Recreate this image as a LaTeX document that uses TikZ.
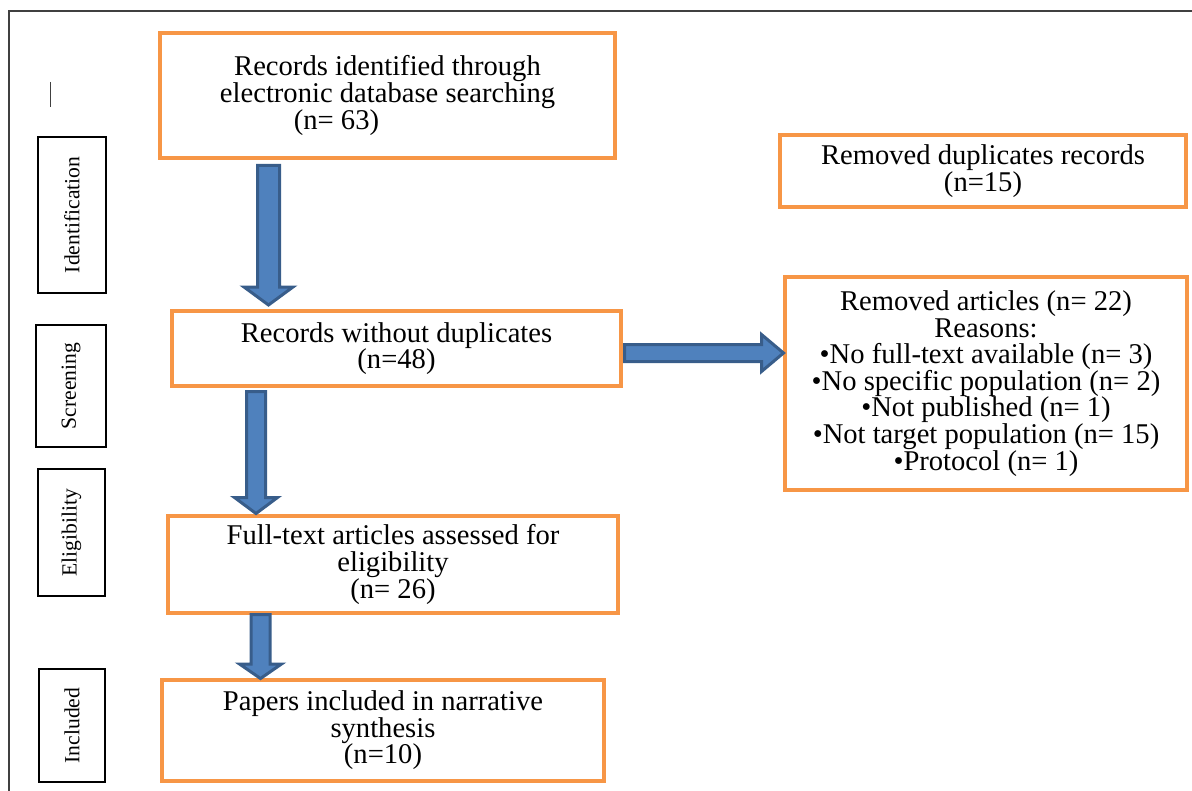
\documentclass[tikz,border=0pt]{standalone}
\usepackage{fontspec}
\setmainfont{Liberation Serif}
\usetikzlibrary{calc}

\definecolor{boxorange}{HTML}{F79646}
\definecolor{arrowblue}{HTML}{4F81BD}
\definecolor{arrowedge}{HTML}{385D8A}
\definecolor{framegray}{HTML}{404040}

\tikzset{
  flowbox/.style={draw=boxorange, line width=2pt, outer sep=0pt, inner sep=0pt,
    align=center, font=\fontsize{14.3}{13.3}\selectfont},
  phasebox/.style={draw=black, line width=1pt, outer sep=0pt, inner sep=0pt,
    rotate=90, font=\fontsize{10.8}{12}\selectfont},
  blockarrow/.style={fill=arrowblue, draw=arrowedge, line width=1.5pt, line join=miter}
}

% fat arrows: start, end, shaft half width, head half width, head length
\newcommand{\fatdown}[5]{%
  \path[blockarrow] let \p1=(#1), \p2=(#2) in
    (\x1-#3,\y1) -- (\x1+#3,\y1) -- (\x1+#3,\y2+#5) -- (\x1+#4,\y2+#5)
    -- (\x1,\y2) -- (\x1-#4,\y2+#5) -- (\x1-#3,\y2+#5) -- cycle;}
\newcommand{\fatright}[5]{%
  \path[blockarrow] let \p1=(#1), \p2=(#2) in
    (\x1,\y1+#3) -- (\x2-#5,\y1+#3) -- (\x2-#5,\y1+#4) -- (\x2,\y1)
    -- (\x2-#5,\y1-#4) -- (\x2-#5,\y1-#3) -- (\x1,\y1-#3) -- cycle;}

\begin{document}
\begin{tikzpicture}[x=0.5pt,y=-0.5pt]
\useasboundingbox (0,0) rectangle (1192,791);

% frame
\draw[framegray, line width=0.7pt] (9,791) -- (9,11) -- (1192,11);
\draw[framegray, line width=0.5pt] (50.5,82) -- (50.5,107);

% phases
\node[phasebox, minimum width=78pt, minimum height=34pt] (ident) at (72,215) {Identification};
\node[phasebox, minimum width=61pt, minimum height=35pt] (screen) at (71,386) {Screening};
\node[phasebox, minimum width=63.5pt, minimum height=33.5pt] (elig) at (71.5,532.5) {Eligibility};
\node[phasebox, minimum width=56.5pt, minimum height=33pt] (incl) at (72,725.5) {Included};

% main boxes
\node[flowbox, minimum width=227.5pt, minimum height=62.5pt] (rec) at (387.5,95.5)
  {Records identified through\\electronic database searching\\(n= 63)\hspace*{51pt}};
\node[flowbox, minimum width=224.5pt, minimum height=37.5pt] (nodup) at (396.5,348.5)
  {Records without duplicates\\(n=48)};
\node[flowbox, minimum width=225pt, minimum height=48.5pt] (ful) at (393,564.5)
  {Full-text articles assessed for\\eligibility\\(n= 26)};
\node[flowbox, minimum width=221pt, minimum height=50.5pt] (pap) at (383,730.5)
  {Papers included in narrative\\synthesis\\(n=10)};

% side boxes
\node[flowbox, minimum width=203pt, minimum height=36pt] (dup) at (983,171)
  {Removed duplicates records\\(n=15)};
\node[flowbox, minimum width=201pt, minimum height=106.5pt] (rem) at (986,383.5)
  {Removed articles (n= 22)\\Reasons:\\\textbullet No full-text available (n= 3)\\
   \textbullet No specific population (n= 2)\\\textbullet Not published (n= 1)\\
   \textbullet Not target population (n= 15)\\\textbullet Protocol (n= 1)};

% arrows
\fatdown{$(rec.south west)+(108.5,7.5)$}{$(nodup.north west)+(96.5,-6)$}{5.5pt}{12.25pt}{9pt}
\fatdown{$(nodup.south west)+(84,5.5)$}{$(ful.north west)+(84,-2.5)$}{4.75pt}{10.75pt}{8pt}
\fatdown{$(ful.south west)+(92.5,1.5)$}{$(pap.north west)+(98.5,-1.5)$}{4.75pt}{10.5pt}{7.25pt}
\fatright{$(nodup.east)+(3.5,4.5)$}{$(rem.west)+(-1.5,0)$}{4.25pt}{9.25pt}{11pt}

\end{tikzpicture}
\end{document}
